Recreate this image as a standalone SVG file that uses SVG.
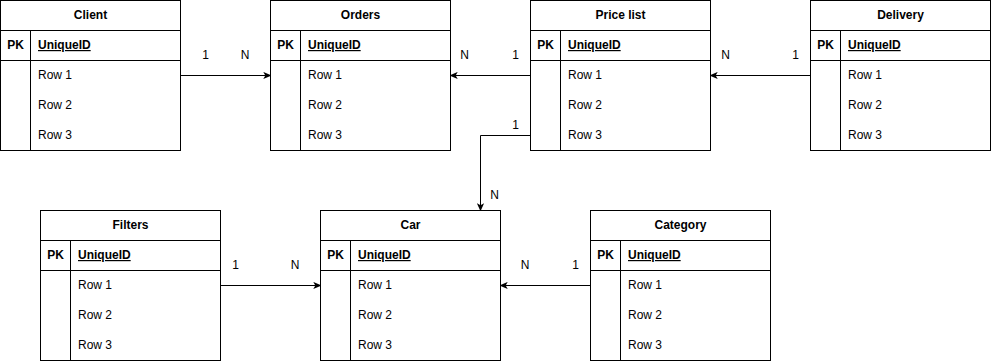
<svg xmlns="http://www.w3.org/2000/svg" width="991" height="361" viewBox="0 0 991 361">
  <defs>
    <style>
      .box { fill: #ffffff; stroke: #000000; stroke-width: 1; }
      .ln { stroke: #000000; stroke-width: 1; fill: none; }
      text { font-family: "Liberation Sans", Arial, Helvetica, sans-serif; font-size: 12px; fill: #000000; }
      .title { font-weight: bold; text-anchor: middle; }
      .pk { font-weight: bold; text-anchor: middle; }
      .key { font-weight: bold; text-decoration: underline; }
      .lbl { text-anchor: middle; }
      .edge { stroke: #000000; stroke-width: 1; fill: none; marker-end: url(#arrow); }
    </style>
    <marker id="arrow" viewBox="0 0 10 10" refX="9" refY="5" markerWidth="8" markerHeight="8" markerUnits="userSpaceOnUse" orient="auto">
      <path d="M0,0.5 L10,5 L0,9.5 L2.5,5 Z" fill="#000000"/>
    </marker>
    <!-- one entity table: header, key row, three attribute rows -->
    <g id="table-frame">
      <rect class="box" x="0.5" y="0.5" width="180" height="150"/>
      <line class="ln" x1="0.5" y1="30.5" x2="180.5" y2="30.5"/>
      <line class="ln" x1="0.5" y1="60.5" x2="180.5" y2="60.5"/>
      <line class="ln" x1="30.5" y1="30.5" x2="30.5" y2="150.5"/>
      <text class="pk" x="15.5" y="49">PK</text>
      <text class="key" x="38" y="49">UniqueID</text>
      <text x="38" y="79">Row 1</text>
      <text x="38" y="109">Row 2</text>
      <text x="38" y="139">Row 3</text>
    </g>
  </defs>

  <g id="client" transform="translate(0,0)">
    <use href="#table-frame"/>
    <text class="title" x="90.5" y="19">Client</text>
  </g>
  <g id="orders" transform="translate(270,0)">
    <use href="#table-frame"/>
    <text class="title" x="90.5" y="19">Orders</text>
  </g>
  <g id="price-list" transform="translate(530,0)">
    <use href="#table-frame"/>
    <text class="title" x="90.5" y="19">Price list</text>
  </g>
  <g id="delivery" transform="translate(810,0)">
    <use href="#table-frame"/>
    <text class="title" x="90.5" y="19">Delivery</text>
  </g>
  <g id="filters" transform="translate(40,210)">
    <use href="#table-frame"/>
    <text class="title" x="90.5" y="19">Filters</text>
  </g>
  <g id="car" transform="translate(320,210)">
    <use href="#table-frame"/>
    <text class="title" x="90.5" y="19">Car</text>
  </g>
  <g id="category" transform="translate(590,210)">
    <use href="#table-frame"/>
    <text class="title" x="90.5" y="19">Category</text>
  </g>

  <g id="connectors">
    <path class="edge" d="M180.5,75.5 L270.5,75.5"/>
    <text class="lbl" x="205.5" y="59">1</text>
    <text class="lbl" x="245" y="59">N</text>

    <path class="edge" d="M530.5,75.5 L450.5,75.5"/>
    <text class="lbl" x="464.5" y="59">N</text>
    <text class="lbl" x="515.5" y="59">1</text>

    <path class="edge" d="M530.5,135.5 L480.5,135.5 L480.5,210.5"/>
    <text class="lbl" x="515.5" y="129">1</text>
    <text class="lbl" x="494.5" y="199">N</text>

    <path class="edge" d="M810.5,75.5 L710.5,75.5"/>
    <text class="lbl" x="725.5" y="59">N</text>
    <text class="lbl" x="795.5" y="59">1</text>

    <path class="edge" d="M220.5,285.5 L320.5,285.5"/>
    <text class="lbl" x="235.5" y="269">1</text>
    <text class="lbl" x="295" y="269">N</text>

    <path class="edge" d="M590.5,285.5 L500.5,285.5"/>
    <text class="lbl" x="525" y="269">N</text>
    <text class="lbl" x="575.5" y="269">1</text>
  </g>
</svg>
